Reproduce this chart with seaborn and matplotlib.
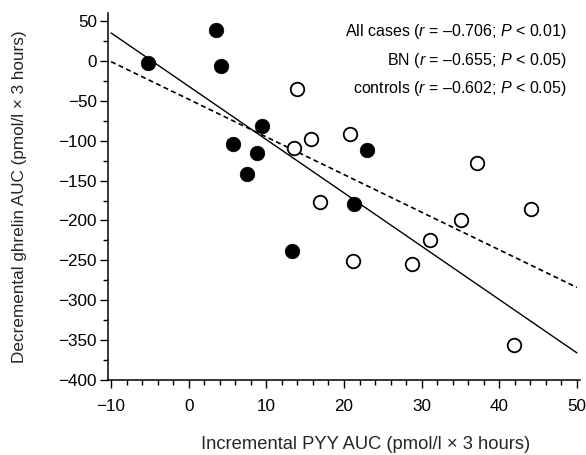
import matplotlib
matplotlib.use("Agg")
import matplotlib.pyplot as plt
from matplotlib.ticker import MultipleLocator
import seaborn as sns
import pandas as pd

# ---- data ----
bn_x = [-5.2, 3.5, 4.1, 9.4, 5.7, 8.8, 7.5, 13.3, 21.3, 23.0]
bn_y = [-3, 39, -7, -82, -104, -115, -142, -238, -179, -112]

ctrl_x = [13.9, 13.5, 15.8, 20.8, 37.1, 16.9, 44.1, 35.1, 31.1, 21.1, 28.7, 41.9]
ctrl_y = [-35, -109, -98, -92, -128, -177, -186, -199, -225, -251, -255, -356]

fit_x = [-10, 50]
fit_all_y = [35, -366]       # solid line
fit_dash_y = [-1, -284]      # dashed line

legend_lines = [
    ("All cases", "-0.706", "0.01"),
    ("BN", "-0.655", "0.05"),
    ("controls", "-0.602", "0.05"),
]

x_ticks = [-10, 0, 10, 20, 30, 40, 50]
y_ticks = [50, 0, -50, -100, -150, -200, -250, -300, -350, -400]

sns.set_style("ticks")
plt.rcParams["font.family"] = ["Liberation Sans", "DejaVu Sans"]
plt.rcParams["mathtext.fontset"] = "custom"
plt.rcParams["mathtext.it"] = "Liberation Sans:italic"
plt.rcParams["mathtext.rm"] = "Liberation Sans"

fig = plt.figure(figsize=(5.86, 4.55), dpi=100)
ax = fig.add_axes([0.1843, 0.1648, 0.8055, 0.8066])

bn = pd.DataFrame({"x": bn_x, "y": bn_y})
ctrl = pd.DataFrame({"x": ctrl_x, "y": ctrl_y})
fits = pd.DataFrame({"x": fit_x, "all": fit_all_y, "dash": fit_dash_y})

sns.lineplot(data=fits, x="x", y="all", ax=ax, color="black", lw=1.0, zorder=1)
sns.lineplot(data=fits, x="x", y="dash", ax=ax, color="black", lw=1.2,
             linestyle=(0, (3, 2)), zorder=1)
sns.scatterplot(data=ctrl, x="x", y="y", ax=ax, s=95, facecolor="white",
                edgecolor="black", linewidth=1.3, zorder=3)
sns.scatterplot(data=bn, x="x", y="y", ax=ax, s=110, color="black",
                edgecolor="black", linewidth=0.5, zorder=4)

ax.set_xlim(-10.4, 50.4)
ax.set_ylim(-400, 60)
ax.set_xticks(x_ticks)
ax.set_yticks(y_ticks)
ax.xaxis.set_minor_locator(MultipleLocator(2))
ax.yaxis.set_minor_locator(MultipleLocator(25))
ax.set_xticklabels([str(t).replace("-", "\u2212") for t in x_ticks])
ax.set_yticklabels([str(t).replace("-", "\u2212") for t in y_ticks])
ax.tick_params(axis="both", which="major", direction="out", length=6, width=1.0,
               labelsize=12.3, color="black", labelcolor="black")
ax.tick_params(axis="both", which="minor", direction="out", length=3.5, width=1.0,
               color="black")
ax.tick_params(axis="x", which="major", pad=8)
ax.tick_params(axis="y", which="major", pad=2)
for s in ["top", "right"]:
    ax.spines[s].set_visible(False)
for s in ["left", "bottom"]:
    ax.spines[s].set_linewidth(1.1)
    ax.spines[s].set_color("black")

ax.set_xlabel("Incremental PYY AUC (pmol/l \u00d7 3 hours)", fontsize=13.2)
ax.xaxis.set_label_coords(0.5455, -0.152)
ax.set_ylabel("Decremental ghrelin AUC (pmol/l \u00d7 3 hours)", fontsize=12.3)
ax.yaxis.set_label_coords(-0.1716, 0.5)

for i, (name, r, p) in enumerate(legend_lines):
    txt = name + r" ($r$ = " + r.replace("-", "\u2013") + r"; $P$ < " + p + ")"
    ax.text(0.972, 0.949 - i * 0.078, txt, transform=ax.transAxes, ha="right",
            va="center", fontsize=11.5, color="black")

fig.savefig("out.png", dpi=100)
